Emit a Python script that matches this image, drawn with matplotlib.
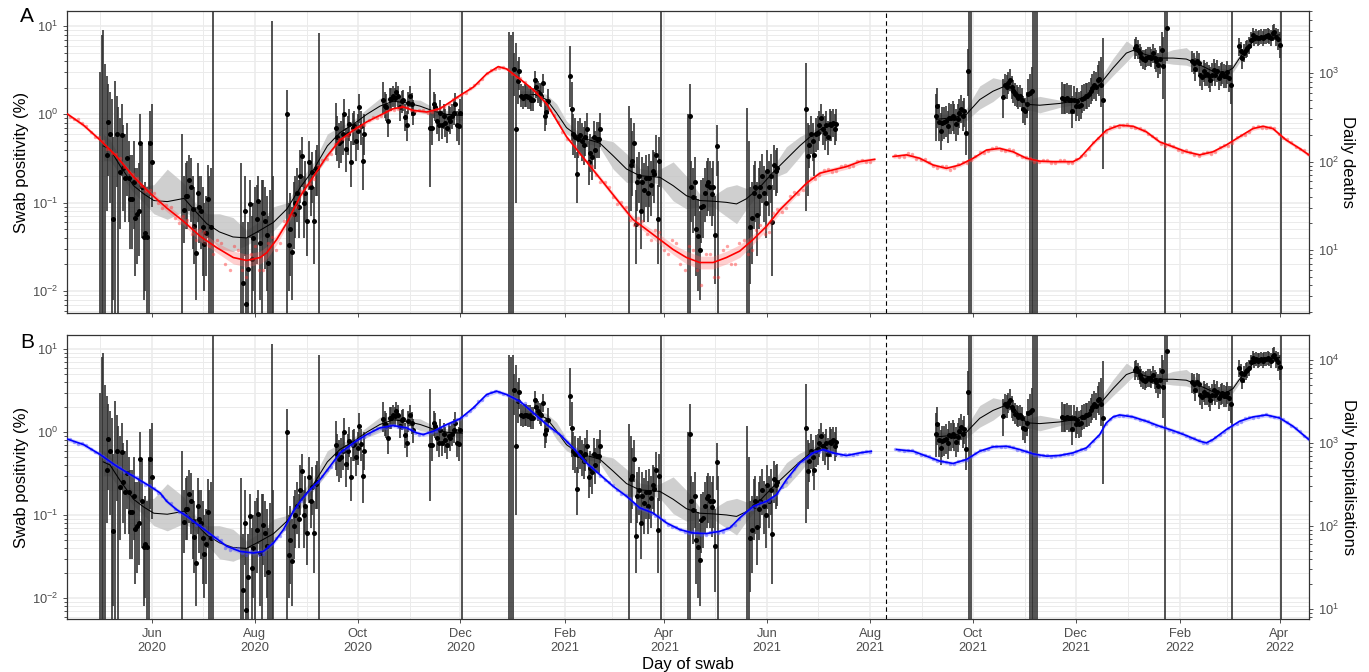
import numpy as np
import matplotlib
matplotlib.use("Agg")
import matplotlib.pyplot as plt
import matplotlib.dates as mdates
from matplotlib.ticker import LogLocator, LogFormatterMathtext, NullFormatter

plt.rcParams['font.family'] = ['Liberation Sans', 'DejaVu Sans']
plt.rcParams['mathtext.fontset'] = 'custom'
plt.rcParams['mathtext.rm'] = 'Liberation Sans'
plt.rcParams['mathtext.it'] = 'Liberation Sans:italic'
plt.rcParams['mathtext.bf'] = 'Liberation Sans:bold'

# ------------------------------------------------------------------ data
ORIGIN = "2020-04-01"          # day 0 of all "days" values below
DASH_DAY = 496.2               # dashed separator (mid Aug 2021)

# daily swab positivity (%) per study round: first day, values, 95% CI
round_start = [30, 79, 114, 141, 170, 198, 226, 273, 309, 344, 379, 414, 449,
               526, 566, 601, 644, 678, 706]
round_pos = [
    [0, 0, 0, 0, 0.35, 0.82, 0.6, 0, 0.065, 0, 0.6, 0, 0.22, 0.58, 0.25, 0.19, 0.32, 0.19, 0.11, 0.11, 0.17, 0.068, 0.075, 0.08, 0.48, 0.15, 0.041, 0.045, 0.041, 0, 0.47, 0.29],
    [0, 0.083, 0.12, 0.12, 0.18, 0.15, 0.085, 0.055, 0.027, 0.13, 0.09, 0.08, 0.053, 0.034, 0.045, 0.11, 0, 0.053, 0],
    [0, 0.0125, 0.08, 0.0072, 0.018, 0.097, 0.023, 0.04, 0, 0.066, 0.105, 0.035, 0, 0.077, 0.062, 0.043, 0.021, 0, 0, 0],
    [1.02, 0.033, 0.05, 0.028, 0.075, 0.1, 0.13, 0.09, 0.2, 0.34, 0.1, 0.13, 0.062, 0.29, 0.15, 0.22, 0.062, 0.24, 0.25, 0],
    [0.7, 0.55, 0.47, 0.5, 0.6, 1.0, 0.41, 0.6, 0.78, 0.29, 0.7, 0.73, 0.5, 0.65, 1.2, 0.73, 0.3, 0.6],
    [1.45, 1.25, 1.2, 0.85, 1.5, 1.5, 1.6, 1.55, 1.8, 1.6, 1.2, 1.4, 1.45, 0.93, 0.75, 1.35, 1.6, 1.3, 1.05],
    [0.7, 0.7, 1.3, 1.2, 0.85, 0.75, 1.05, 0.75, 0.95, 0.8, 0.7, 0.9, 0.85, 0.95, 1.05, 1.3, 0.75, 0.73, 1.05, 0],
    [0, 0, 0, 3.26, 0.69, 2.37, 3.07, 1.61, 1.55, 1.61, 1.61, 1.57, 1.55, 1.47, 1.47, 2.43, 2.03, 1.8, 1.68, 1.61, 2.27, 0.96, 1.06, 1.41],
    [2.7, 1.14, 0.6, 0.55, 0.21, 0.53, 0.58, 0.5, 0.45, 0.55, 0.68, 0.29, 0.37, 0.33, 0.55, 0.4, 0.52, 0.52, 0.68],
    [0, 0.27, 0.3, 0.47, 0.057, 0.17, 0.2, 0.08, 0.17, 0.14, 0.19, 0.13, 0.19, 0.16, 0.23, 0.21, 0.35, 0.066, 0.3, 0],
    [0, 0.96, 0.15, 0.116, 0.17, 0.051, 0.042, 0.029, 0.089, 0.093, 0.13, 0.16, 0.17, 0.15, 0.126, 0.15, 0.043, 0.44, 0],
    [0, 0, 0.053, 0.067, 0.13, 0.15, 0.073, 0.12, 0.15, 0.2, 0.13, 0.1, 0.23, 0.15, 0.2, 0.06, 0.27, 0.23, 0.25],
    [1.14, 0.34, 0.45, 0.6, 0.5, 0.35, 0.6, 0.62, 0.75, 0.9, 0.68, 0.62, 0.75, 0.55, 0.77, 0.75, 0.8, 0.68, 0.77],
    [0.96, 1.26, 0.81, 0.65, 0.79, 0.81, 0.84, 0.74, 0.92, 0.9, 0.96, 0.9, 0.77, 0.88, 1.04, 1.16, 0.96, 1.08, 0.62, 3.07, 0, 0],
    [1.58, 2.17, 2.05, 2.27, 2.47, 2.03, 1.83, 1.68, 1.61, 1.54, 1.61, 1.47, 1.14, 1.09, 1.3, 1.71, 1.75, 1.83, 0, 0, 0],
    [1.54, 1.5, 1.49, 1.54, 1.47, 1.47, 1.09, 1.47, 1.24, 1.4, 1.26, 1.28, 1.51, 1.54, 1.61, 1.61, 1.68, 1.83, 2.0, 2.17, 2.05, 2.47, 2.52, 2.17, 1.47],
    [5.6, 5.9, 5.4, 4.9, 4.5, 4.2, 4.1, 4.3, 4.5, 4.5, 4.3, 4.9, 4.3, 4.0, 3.65, 4.2, 5.4, 3.5, 0, 9.4],
    [3.97, 3.8, 3.26, 3.97, 3.8, 2.82, 2.63, 3.07, 2.82, 2.9, 2.7, 2.47, 2.82, 3.2, 2.82, 3.07, 2.6, 2.82, 2.95, 2.75, 2.7, 3.0, 2.6, 2.17, 0],
    [5.9, 5.2, 4.3, 5.0, 5.4, 5.6, 6.0, 7.0, 7.9, 7.3, 7.6, 7.3, 7.4, 7.6, 7.3, 7.6, 7.7, 7.9, 7.6, 7.3, 8.3, 8.6, 7.6, 7.1, 6.1, 0],
]
round_lo = [
    [0, 0, 0, 0, 0.08, 0.2, 0.1, 0, 0.008, 0, 0.15, 0, 0.05, 0.2, 0.08, 0.06, 0.12, 0.06, 0.03, 0.03, 0.05, 0.015, 0.02, 0.025, 0.15, 0.04, 0.008, 0.01, 0, 0, 0.12, 0.09],
    [0, 0.035, 0.05, 0.05, 0.08, 0.06, 0.03, 0.02, 0.008, 0.06, 0.035, 0.03, 0.015, 0.01, 0.015, 0.04, 0, 0, 0],
    [0, 0.002, 0.025, 0, 0.003, 0.04, 0.004, 0.01, 0, 0.02, 0.045, 0.008, 0, 0.025, 0.018, 0.01, 0.003, 0, 0, 0],
    [0, 0.01, 0.015, 0.008, 0.03, 0.04, 0.06, 0.04, 0.1, 0.15, 0.04, 0.06, 0.025, 0.14, 0.07, 0.1, 0.02, 0.12, 0.12, 0],
    [0.35, 0.3, 0.25, 0.28, 0.35, 0.65, 0.22, 0.35, 0.5, 0.15, 0.45, 0.45, 0.3, 0.4, 0.8, 0.45, 0.14, 0.35],
    [1.0, 0.9, 0.85, 0.55, 1.1, 1.1, 1.2, 1.15, 1.4, 1.2, 0.85, 1.05, 1.1, 0.65, 0.5, 1.0, 1.2, 0.95, 0.75],
    [0.15, 0.45, 0.9, 0.85, 0.6, 0.5, 0.75, 0.52, 0.68, 0.56, 0.48, 0.64, 0.6, 0.68, 0.75, 0.95, 0.5, 0.45, 0.7, 0],
    [0, 0, 0, 1.6, 0.1, 1.3, 1.9, 1.2, 1.15, 1.2, 1.2, 1.15, 1.15, 1.1, 1.1, 1.9, 1.55, 1.35, 1.25, 1.2, 1.75, 0.65, 0.75, 1.0],
    [1.2, 0.5, 0.35, 0.32, 0.1, 0.32, 0.36, 0.3, 0.27, 0.34, 0.43, 0.16, 0.22, 0.18, 0.34, 0.24, 0.32, 0.32, 0.43],
    [0, 0.08, 0.12, 0.25, 0.02, 0.08, 0.1, 0.03, 0.08, 0.06, 0.09, 0.06, 0.09, 0.07, 0.12, 0.1, 0.2, 0.02, 0.15, 0],
    [0, 0, 0.06, 0.045, 0.07, 0.015, 0.01, 0.008, 0.035, 0.04, 0.06, 0.07, 0.08, 0.07, 0.055, 0.07, 0.012, 0.2, 0],
    [0, 0, 0.012, 0.02, 0.05, 0.06, 0.025, 0.05, 0.07, 0.1, 0.06, 0.04, 0.12, 0.07, 0.1, 0.015, 0.14, 0.12, 0.13],
    [0.08, 0.12, 0.25, 0.36, 0.3, 0.2, 0.38, 0.4, 0.5, 0.6, 0.45, 0.4, 0.5, 0.35, 0.5, 0.5, 0.55, 0.45, 0.5],
    [0.5, 0.7, 0.5, 0.4, 0.5, 0.52, 0.55, 0.48, 0.6, 0.6, 0.65, 0.6, 0.5, 0.58, 0.7, 0.8, 0.65, 0.72, 0.35, 1.6, 0, 0],
    [0.9, 1.6, 1.5, 1.7, 1.85, 1.5, 1.35, 1.25, 1.2, 1.15, 1.2, 1.1, 0.8, 0.75, 0.9, 1.1, 0, 0, 0, 0, 0],
    [1.0, 1.0, 1.0, 1.05, 1.0, 1.0, 0.7, 1.0, 0.85, 0.95, 0.85, 0.88, 1.05, 1.08, 1.15, 1.15, 1.2, 1.3, 1.4, 1.5, 1.4, 1.7, 1.6, 1.2, 0.24],
    [4.2, 4.6, 4.2, 3.8, 3.5, 3.3, 3.2, 3.4, 3.5, 3.5, 3.4, 3.8, 3.3, 3.0, 2.6, 2.9, 3.4, 1.5, 0, 4.0],
    [3.0, 2.9, 2.4, 3.0, 2.9, 2.1, 1.9, 2.3, 2.1, 2.1, 2.0, 1.8, 2.1, 2.4, 2.1, 2.3, 1.9, 2.1, 2.2, 2.0, 2.0, 2.2, 1.8, 1.3, 0],
    [4.6, 4.1, 3.3, 3.9, 4.3, 4.5, 4.8, 5.7, 6.5, 6.0, 6.2, 6.0, 6.1, 6.2, 6.0, 6.2, 6.3, 6.5, 6.2, 5.9, 6.8, 7.0, 6.0, 5.4, 4.3, 0],
]
round_hi = [
    [3.0, 8.0, 9.0, 3.7, 2.7, 2.2, 1.8, 1.5, 0.55, 2.4, 1.6, 1.2, 0.9, 1.3, 0.75, 0.6, 0.8, 0.5, 0.35, 0.35, 0.5, 0.25, 0.25, 0.28, 1.0, 0.45, 0.15, 0.17, 0.15, 0.5, 1.1, 1.3],
    [0.6, 0.2, 0.28, 0.3, 0.35, 0.32, 0.2, 0.15, 0.09, 0.28, 0.2, 0.2, 0.15, 0.1, 0.12, 0.27, 0.2, 0.25, 20],
    [0.28, 0.06, 0.2, 0.04, 0.06, 0.18, 0.07, 0.1, 0.15, 0.16, 0.2, 0.1, 0.18, 0.18, 0.15, 0.12, 0.07, 0.14, 11.5, 0.2],
    [1.9, 0.1, 0.13, 0.09, 0.17, 0.2, 0.25, 0.18, 0.4, 0.55, 0.2, 0.3, 0.13, 0.5, 0.3, 0.38, 0.15, 0.4, 0.45, 8.4],
    [1.35, 0.95, 0.8, 0.85, 0.95, 1.5, 0.7, 0.95, 1.15, 0.5, 1.05, 1.1, 0.8, 1.0, 1.7, 1.1, 0.55, 1.0],
    [2.3, 1.8, 1.7, 1.3, 2.0, 2.0, 2.1, 2.0, 2.3, 2.1, 1.6, 1.85, 1.9, 1.3, 1.1, 1.8, 2.1, 1.75, 1.45],
    [3.3, 1.1, 1.8, 1.7, 1.2, 1.1, 1.45, 1.1, 1.3, 1.15, 1.0, 1.25, 1.2, 1.3, 1.45, 1.75, 1.1, 1.15, 1.5, 20],
    [8.5, 8.0, 8.5, 5.0, 6.5, 4.0, 4.5, 2.2, 2.1, 2.2, 2.2, 2.1, 2.1, 2.0, 2.0, 3.1, 2.6, 2.4, 2.25, 2.2, 2.9, 1.4, 1.5, 1.95],
    [6.0, 2.3, 1.0, 0.9, 0.38, 0.85, 0.9, 0.8, 0.72, 0.85, 1.05, 0.5, 0.6, 0.55, 0.85, 0.65, 0.82, 0.82, 1.05],
    [1.24, 0.9, 0.65, 0.8, 0.14, 0.33, 0.38, 0.18, 0.33, 0.28, 0.35, 0.26, 0.36, 0.3, 0.4, 0.38, 0.58, 0.16, 0.55, 20],
    [1.0, 2.2, 0.3, 0.25, 0.33, 0.12, 0.11, 0.08, 0.18, 0.19, 0.25, 0.3, 0.32, 0.3, 0.25, 0.3, 0.12, 0.75, 0.3],
    [1.19, 0.5, 0.15, 0.17, 0.27, 0.3, 0.17, 0.25, 0.3, 0.36, 0.26, 0.22, 0.4, 0.3, 0.36, 0.16, 0.45, 0.4, 0.42],
    [3.8, 0.8, 0.75, 0.95, 0.8, 0.6, 0.92, 0.95, 1.1, 1.3, 1.0, 0.95, 1.1, 0.85, 1.15, 1.1, 1.15, 1.0, 1.15],
    [1.7, 2.0, 1.3, 1.05, 1.2, 1.2, 1.25, 1.1, 1.35, 1.3, 1.4, 1.3, 1.15, 1.3, 1.5, 1.65, 1.4, 1.55, 1.0, 5.5, 20, 20],
    [2.5, 2.9, 2.8, 3.0, 3.3, 2.7, 2.45, 2.25, 2.15, 2.05, 2.15, 2.0, 1.6, 1.55, 1.8, 2.5, 2.9, 3.4, 20, 20, 20],
    [2.3, 2.2, 2.2, 2.25, 2.15, 2.15, 1.6, 2.1, 1.8, 2.0, 1.8, 1.85, 2.15, 2.2, 2.25, 2.25, 2.35, 2.6, 2.85, 3.1, 3.0, 3.6, 4.0, 4.5, 7.3],
    [7.2, 7.5, 6.9, 6.3, 5.8, 5.4, 5.3, 5.5, 5.8, 5.8, 5.5, 6.3, 5.6, 5.3, 5.0, 6.0, 8.5, 7.5, 20, 20],
    [5.2, 5.0, 4.3, 5.2, 5.0, 3.8, 3.5, 4.1, 3.8, 3.9, 3.6, 3.4, 3.8, 4.2, 3.8, 4.1, 3.5, 3.8, 3.9, 3.7, 3.6, 4.0, 3.6, 3.6, 20],
    [7.4, 6.6, 5.5, 6.3, 6.8, 7.0, 7.5, 8.6, 9.6, 8.9, 9.2, 8.9, 9.0, 9.2, 8.9, 9.2, 9.3, 9.6, 9.2, 9.0, 10.2, 10.6, 9.6, 9.3, 8.5, 20],
]

# smoothed swab positivity (%) with 95% band, three segments
smooth1_days = [32, 36, 42, 50, 56, 62, 70, 80, 85.5, 93.4, 101, 109, 117, 125, 133, 141, 149, 157, 165, 172.5, 180.4, 188.3, 196.2, 204.1, 212, 220, 228, 236, 245]
smooth1_mid = [0.44, 0.404, 0.262, 0.156, 0.126, 0.106, 0.103, 0.112, 0.085, 0.058, 0.0467, 0.041, 0.040, 0.0487, 0.060, 0.085, 0.150, 0.241, 0.44, 0.622, 0.772, 1.0, 1.24, 1.41, 1.35, 1.24, 1.09, 1.0, 0.974]
smooth1_lo = [0.30, 0.30, 0.21, 0.13, 0.10, 0.075, 0.065, 0.08, 0.068, 0.045, 0.03, 0.028, 0.033, 0.04, 0.048, 0.07, 0.12, 0.2, 0.32, 0.53, 0.69, 0.86, 1.0, 1.27, 1.22, 1.05, 0.97, 0.91, 0.85]
smooth1_hi = [0.60, 0.52, 0.32, 0.19, 0.155, 0.16, 0.24, 0.165, 0.105, 0.075, 0.075, 0.068, 0.049, 0.062, 0.09, 0.1, 0.18, 0.29, 0.6, 0.73, 0.86, 1.15, 1.52, 1.56, 1.48, 1.45, 1.2, 1.1, 1.1]

smooth2_days = [279.2, 288.1, 295.1, 301.0, 306.9, 314.8, 322.7, 326.7, 334.6, 342.5, 350.4, 358.3, 362.3, 370.2, 378.1, 386.0, 393.9, 401.8, 407.8, 413.7, 421.6, 429.5, 437.4, 445.3, 453.2, 459.2, 467.1]
smooth2_mid = [1.62, 1.68, 1.47, 1.04, 0.708, 0.546, 0.50, 0.472, 0.34, 0.241, 0.202, 0.197, 0.194, 0.156, 0.12, 0.106, 0.104, 0.101, 0.097, 0.111, 0.150, 0.221, 0.312, 0.44, 0.596, 0.708, 0.772]
smooth2_lo = [1.4, 1.5, 1.28, 0.82, 0.6, 0.49, 0.45, 0.42, 0.24, 0.17, 0.17, 0.17, 0.16, 0.105, 0.085, 0.09, 0.09, 0.07, 0.058, 0.085, 0.13, 0.19, 0.22, 0.33, 0.52, 0.63, 0.67]
smooth2_hi = [1.85, 1.85, 1.68, 1.32, 0.84, 0.61, 0.555, 0.53, 0.49, 0.36, 0.245, 0.23, 0.24, 0.29, 0.2, 0.125, 0.12, 0.15, 0.16, 0.145, 0.175, 0.255, 0.43, 0.56, 0.67, 0.79, 0.88]

smooth3_days = [526.4, 536.3, 544.2, 552.1, 560.0, 567.9, 571.9, 579.8, 587.7, 599.6, 607.5, 615.4, 623.3, 631.2, 639.1, 643.1, 651.0, 658.9, 666.8, 674.7, 682.6, 690.5, 698.4, 702.4, 706.3, 714.2, 722.1, 730.0]
smooth3_mid = [0.879, 0.917, 1.0, 1.47, 1.83, 2.12, 2.0, 1.30, 1.27, 1.33, 1.41, 1.61, 2.18, 3.35, 4.94, 5.29, 4.73, 4.34, 4.34, 4.23, 3.65, 3.07, 2.99, 3.35, 4.34, 6.68, 7.6, 7.94]
smooth3_lo = [0.77, 0.82, 0.85, 1.15, 1.4, 1.85, 1.8, 1.15, 1.04, 1.2, 1.28, 1.45, 1.9, 2.75, 3.9, 4.7, 4.4, 3.9, 3.7, 3.6, 3.2, 2.8, 2.7, 3.0, 3.9, 6.2, 7.1, 7.3]
smooth3_hi = [1.0, 1.02, 1.17, 2.1, 2.6, 2.4, 2.2, 1.45, 1.6, 1.45, 1.52, 1.78, 2.5, 4.3, 6.8, 6.0, 5.1, 4.8, 5.4, 5.7, 4.2, 3.35, 3.3, 3.7, 4.8, 7.2, 8.1, 8.6]

# daily deaths: smoothed curve (two segments), band factor, daily points
deaths1_days = [10.4, 20.3, 30.2, 40.0, 49.9, 59.8, 69.7, 79.6, 89.5, 99.4, 109.2, 117.1, 125.1, 129.0, 134.9, 140.9, 148.8, 156.7, 164.6, 172.5, 180.4, 188.3, 196.2, 204.1, 210.1, 216.0, 223.9, 231.8, 237.8, 243.7, 251.6, 259.5, 266.4, 271.3, 279.2, 287.2, 295.1, 301.0, 306.9, 314.8, 322.7, 330.7, 338.6, 346.5, 354.4, 362.3, 370.2, 378.1, 386.0, 393.9, 401.8, 409.7, 417.6, 425.6, 433.5, 441.4, 449.3, 457.2, 465.1, 473.0, 480.9, 489.8]
deaths1_vals = [349, 258, 175, 114, 67.6, 43.9, 29.8, 21.1, 14.3, 10.6, 8.2, 7.6, 8.2, 9.3, 13.1, 20.2, 40.3, 67.6, 114, 175, 226, 281, 334, 397, 415, 380, 364, 397, 471, 561, 696, 983, 1188, 1119, 863, 649, 452, 294, 191, 124, 80.5, 52.1, 33.7, 22.0, 17.0, 13.1, 10.1, 8.2, 7.2, 7.2, 8.2, 9.7, 13.1, 18.5, 28.4, 40.1, 56.8, 73.8, 80.5, 87.6, 99.7, 106]
deaths1_band = [1.04, 1.05, 1.05, 1.05, 1.07, 1.07, 1.1, 1.1, 1.14, 1.14,
                1.18, 1.18, 1.18, 1.18, 1.14, 1.1, 1.07, 1.07, 1.05, 1.05,
                1.05, 1.05, 1.04, 1.04, 1.04, 1.04, 1.04, 1.04, 1.04, 1.04,
                1.04, 1.04, 1.04, 1.04, 1.04, 1.04, 1.04, 1.05, 1.05, 1.05,
                1.07, 1.07, 1.07, 1.1, 1.1, 1.14, 1.14, 1.18, 1.18, 1.18,
                1.18, 1.18, 1.14, 1.1, 1.1, 1.07, 1.07, 1.07, 1.07, 1.07,
                1.07, 1.05]
deaths2_days = [500.7, 508.6, 516.5, 524.4, 532.3, 540.3, 548.2, 556.1, 564.0, 571.9, 579.8, 587.7, 595.6, 607.5, 611.4, 619.3, 627.2, 635.1, 643.1, 651.0, 658.9, 666.8, 674.7, 682.6, 690.5, 698.4, 706.3, 714.2, 720.2, 726.1, 734.0, 741.9, 747.4]
deaths2_vals = [114, 119, 109, 91.5, 83.8, 91.5, 109, 135, 141, 129, 109, 101, 99.7, 99.7, 109, 160, 226, 258, 251, 217, 167, 147, 129, 119, 129, 154, 191, 236, 251, 236, 175, 141, 119]
deaths2_band = 1.05

# daily points, sampled on two interleaved day grids
pts1_days = np.arange(12, 488, 5)
pts2_days = np.arange(502, 748, 5)
pts1b_days = np.arange(14.5, 485, 5)
pts2b_days = np.arange(504.5, 745, 5)

deaths_pts1 = [320, 300, 255, 190, 172, 125, 110, 76, 66, 46, 44, 30, 31, 20, 22, 13, 16, 9, 12, 6, 10, 5, 11, 6, 14, 12, 25, 31, 55, 64, 104, 122, 178, 195, 245, 262, 318, 330, 395, 398, 420, 370, 380, 362, 410, 450, 545, 600, 730, 860, 1080, 1160, 1130, 910, 800, 640, 540, 385, 280, 182, 150, 104, 88, 58, 52, 33, 31, 19, 21, 13, 16, 9, 12, 6, 10, 4, 9, 5, 11, 7, 13, 10, 19, 16, 29, 30, 45, 48, 66, 70, 82, 79, 91, 89, 104, 100]
deaths_pts2 = [120, 113, 121, 103, 100, 84, 88, 85, 99, 103, 127, 131, 145, 133, 134, 112, 109, 98, 104, 96, 103, 97, 115, 138, 186, 218, 252, 262, 246, 242, 205, 184, 152, 152, 130, 130, 116, 128, 129, 155, 164, 201, 216, 250, 242, 238, 184, 165, 137, 123]
deaths_pts1b = [300, 275, 215, 188, 140, 121, 86, 72, 53, 48, 34, 32, 23, 24, 15, 17, 11, 13, 7, 11, 6, 9, 6, 12, 10, 21, 25, 46, 56, 88, 106, 158, 181, 228, 245, 298, 315, 372, 388, 425, 380, 384, 355, 395, 418, 510, 560, 680, 770, 1010, 1110, 1180, 990, 875, 700, 610, 450, 340, 218, 170, 121, 99, 70, 58, 40, 35, 22, 23, 15, 17, 10, 13, 7, 11, 6, 9, 5, 10, 7, 12, 9, 17, 15, 26, 27, 41, 43, 61, 64, 80, 77, 88, 86, 101, 98]
deaths_pts2b = [112, 124, 108, 106, 88, 90, 81, 94, 96, 117, 125, 143, 136, 139, 118, 114, 100, 104, 96, 104, 97, 108, 120, 166, 198, 246, 249, 263, 238, 230, 196, 160, 158, 136, 135, 119, 125, 122, 145, 152, 189, 199, 244, 243, 248, 203, 178, 145, 134]

# daily hospitalisations: smoothed curve (two segments), daily points
hosp1_days = [10.4, 20.3, 30.2, 40.0, 49.9, 59.8, 65.7, 69.7, 75.6, 81.6, 89.5, 97.4, 105.3, 113.2, 121.1, 127.0, 133.0, 138.9, 144.8, 148.8, 154.7, 160.6, 166.6, 172.5, 180.4, 188.3, 196.2, 204.1, 212.0, 218.0, 221.9, 227.9, 235.8, 243.7, 251.6, 259.5, 265.4, 271.3, 279.2, 287.2, 295.1, 303.0, 310.9, 318.8, 326.7, 334.6, 342.5, 350.4, 358.3, 366.2, 374.2, 382.1, 390.0, 397.9, 403.8, 409.7, 417.6, 425.6, 431.5, 437.4, 445.3, 453.2, 459.2, 465.1, 473.0, 480.9, 487.8]
hosp1_vals = [1116, 954, 723, 523, 396, 300, 250, 198, 157, 131, 99, 75, 56.9, 49.4, 47.2, 49.4, 62.4, 90.2, 150, 198, 274, 361, 523, 757, 999, 1259, 1515, 1616, 1515, 1319, 1259, 1381, 1661, 1950, 2638, 3818, 4190, 3818, 3174, 2297, 1661, 1259, 869, 573, 415, 300, 228, 165, 143, 109, 90.3, 82.2, 81, 86.2, 94.5, 125, 172, 198, 238, 361, 573, 757, 830, 757, 703, 757, 793]
hosp2_days = [502.7, 512.6, 520.5, 528.4, 536.3, 544.2, 552.1, 560.0, 567.9, 575.8, 583.7, 591.7, 599.6, 607.5, 615.4, 623.3, 627.2, 631.2, 635.1, 643.1, 651.0, 658.9, 666.8, 674.7, 682.6, 686.6, 690.5, 698.4, 706.3, 714.2, 722.1, 730.0, 738.0, 747.4]
hosp2_vals = [832, 794, 692, 603, 565, 631, 794, 895, 912, 832, 738, 692, 705, 759, 871, 1259, 1738, 2051, 2168, 2051, 1820, 1585, 1406, 1225, 1047, 1000, 1096, 1445, 1820, 2051, 2168, 1995, 1585, 1096]
hosp_band = 1.06
hosp_pts1 = [1120, 980, 940, 770, 700, 560, 515, 420, 385, 315, 290, 228, 188, 146, 136, 104, 94, 72, 68, 51, 54, 45, 50, 46, 63, 76, 124, 170, 245, 296, 400, 515, 760, 870, 1070, 1190, 1410, 1500, 1630, 1560, 1540, 1320, 1290, 1340, 1550, 1680, 1920, 2190, 2730, 3320, 4040, 4090, 3820, 3280, 2980, 2270, 1940, 1520, 1330, 1020, 850, 605, 512, 400, 338, 268, 238, 184, 165, 141, 131, 103, 98, 84, 86, 77, 85, 82, 95, 104, 144, 162, 192, 202, 252, 340, 485, 605, 750, 785, 815, 725, 725, 715, 780, 775]
hosp_pts2 = [850, 800, 815, 720, 690, 605, 596, 555, 625, 695, 810, 840, 920, 895, 890, 805, 770, 700, 708, 688, 735, 740, 835, 915, 1210, 1670, 2120, 2110, 2110, 1890, 1830, 1600, 1550, 1370, 1310, 1140, 1085, 985, 1190, 1350, 1660, 1800, 2050, 2070, 2210, 2030, 1950, 1610, 1390, 1130]
hosp_pts1b = [1030, 990, 835, 760, 610, 545, 450, 410, 335, 312, 252, 206, 158, 145, 114, 103, 80, 73, 55, 55, 47, 50, 45, 57, 71, 91, 152, 198, 282, 335, 475, 625, 830, 950, 1160, 1270, 1490, 1530, 1650, 1530, 1460, 1260, 1340, 1390, 1630, 1760, 2050, 2390, 3160, 3730, 4230, 3880, 3600, 3090, 2630, 2010, 1740, 1400, 1200, 900, 715, 540, 462, 360, 308, 243, 218, 165, 158, 133, 119, 97, 93, 82, 84, 78, 87, 85, 101, 120, 155, 172, 200, 216, 298, 400, 565, 665, 800, 810, 780, 712, 730, 735, 795]
hosp_pts2b = [810, 825, 750, 720, 635, 612, 556, 605, 620, 760, 815, 910, 888, 915, 830, 800, 718, 715, 682, 720, 725, 800, 840, 1060, 1350, 1940, 2110, 2170, 1980, 1900, 1680, 1610, 1420, 1370, 1200, 1130, 1000, 1090, 1230, 1530, 1700, 1970, 2020, 2170, 2080, 2050, 1760, 1530, 1200]

# ------------------------------------------------------------------ style
YLIM = (0.00565, 14.8)
F_DEATHS = 342.0
F_HOSP = 1343.0
GRID = '#EBEBEB'
TXT = '#4D4D4D'
DARK = '#333333'
base = mdates.date2num(np.datetime64(ORIGIN))


def X(d):
    return base + np.asarray(d, dtype=float)


def style_axes(ax):
    ax.set_yscale('log')
    ax.set_ylim(*YLIM)
    ax.set_xlim(X(10.5), X(747.5))
    ax.yaxis.set_major_locator(LogLocator(base=10, numticks=15))
    ax.yaxis.set_minor_locator(LogLocator(base=10, subs=np.arange(2, 10), numticks=15))
    ax.yaxis.set_major_formatter(LogFormatterMathtext())
    ax.yaxis.set_minor_formatter(NullFormatter())
    ax.xaxis.set_major_locator(mdates.MonthLocator(bymonth=[2, 4, 6, 8, 10, 12]))
    ax.xaxis.set_minor_locator(mdates.MonthLocator(bymonth=[1, 3, 5, 7, 9, 11]))
    ax.xaxis.set_major_formatter(mdates.DateFormatter('%b\n%Y'))
    ax.grid(True, which='major', color=GRID, lw=1.1)
    ax.grid(True, which='minor', color=GRID, lw=0.7)
    ax.set_axisbelow(True)
    ax.tick_params(which='both', direction='out', color=DARK, labelcolor=TXT, width=0.6)
    ax.tick_params(which='major', length=3, labelsize=9.3)
    ax.tick_params(which='minor', length=2)
    ax.tick_params(axis='x', which='minor', length=0)
    for s in ax.spines.values():
        s.set_color(DARK)
        s.set_linewidth(0.9)


def draw_black(ax):
    for dd, lo, hi, mid in [(smooth1_days, smooth1_lo, smooth1_hi, smooth1_mid),
                            (smooth2_days, smooth2_lo, smooth2_hi, smooth2_mid),
                            (smooth3_days, smooth3_lo, smooth3_hi, smooth3_mid)]:
        ax.fill_between(X(dd), lo, hi, color='#C4C4C4', alpha=0.8, lw=0, zorder=1)
        ax.plot(X(dd), mid, color='black', lw=0.75, zorder=4)
    for s, pos, lo, hi in zip(round_start, round_pos, round_lo, round_hi):
        d = s + np.arange(len(pos))
        pos = np.asarray(pos, float)
        lo = np.asarray(lo, float)
        hi = np.asarray(hi, float)
        lo_c = np.where(lo > 0, lo, 1e-4)
        ax.vlines(X(d), lo_c, hi, colors='#303030', lw=1.3, alpha=0.9, zorder=2)
        m = pos > 0
        ax.scatter(X(d[m]), pos[m], s=13, c='black', lw=0, zorder=3)


def draw_series(ax, F, segs, pts, line_c, pt_c, band_c, label):
    ax2 = ax.twinx()
    ax2.set_yscale('log')
    ax2.set_ylim(YLIM[0] * F, YLIM[1] * F)
    for dd, vv in pts:
        ax2.scatter(X(dd), vv, s=6, color=pt_c, alpha=0.45, lw=0, zorder=1)
    for dd, vv, bb in segs:
        vv = np.asarray(vv, float)
        bb = np.asarray(bb, float)
        ax2.fill_between(X(dd), vv / bb, vv * bb, color=band_c, alpha=0.3, lw=0, zorder=2)
        ax2.plot(X(dd), vv, color=line_c, lw=1.2, zorder=3)
    ax2.yaxis.set_major_locator(LogLocator(base=10, numticks=15))
    ax2.yaxis.set_minor_locator(LogLocator(base=10, subs=np.arange(2, 10), numticks=15))
    ax2.yaxis.set_major_formatter(LogFormatterMathtext())
    ax2.yaxis.set_minor_formatter(NullFormatter())
    ax2.tick_params(which='both', direction='out', color=DARK, labelcolor=TXT, width=0.6)
    ax2.tick_params(which='major', length=3, labelsize=9.3)
    ax2.tick_params(which='minor', length=2)
    for s in ax2.spines.values():
        s.set_visible(False)
    ax2.set_ylabel(label, rotation=270, va='bottom', fontsize=12, labelpad=1)
    ax2.axvline(X(DASH_DAY), color='black', lw=0.8, ls=(0, (4, 3)), zorder=5)
    return ax2


fig = plt.figure(figsize=(13.69, 6.72), dpi=100)
axA = fig.add_axes([67 / 1369, 1 - 313 / 672, (1309 - 67) / 1369, (313 - 11) / 672])
axB = fig.add_axes([67 / 1369, 1 - 619 / 672, (1309 - 67) / 1369, (619 - 335) / 672])

for ax in (axA, axB):
    style_axes(ax)
    draw_black(ax)
    ax.set_ylabel('Swab positivity (%)', fontsize=12, labelpad=2)

axA.tick_params(axis='x', labelbottom=False)
axB.set_xlabel('Day of swab', fontsize=12, labelpad=2)

draw_series(axA, F_DEATHS,
            [(deaths1_days, deaths1_vals, deaths1_band), (deaths2_days, deaths2_vals, deaths2_band)],
            [(pts1_days, deaths_pts1), (pts2_days, deaths_pts2),
             (pts1b_days, deaths_pts1b), (pts2b_days, deaths_pts2b)],
            '#FF0000', '#FF3030', '#FF6060', 'Daily deaths')
draw_series(axB, F_HOSP,
            [(hosp1_days, hosp1_vals, hosp_band), (hosp2_days, hosp2_vals, hosp_band)],
            [(pts1_days, hosp_pts1), (pts2_days, hosp_pts2),
             (pts1b_days, hosp_pts1b), (pts2b_days, hosp_pts2b)],
            '#0000FF', '#4040FF', '#6060FF', 'Daily hospitalisations')

fig.text(27 / 1369, 1 - 17 / 672, 'A', fontsize=15, ha='center', va='center')
fig.text(27 / 1369, 1 - 342 / 672, 'B', fontsize=15, ha='center', va='center')

fig.savefig('out.png', dpi=100)
